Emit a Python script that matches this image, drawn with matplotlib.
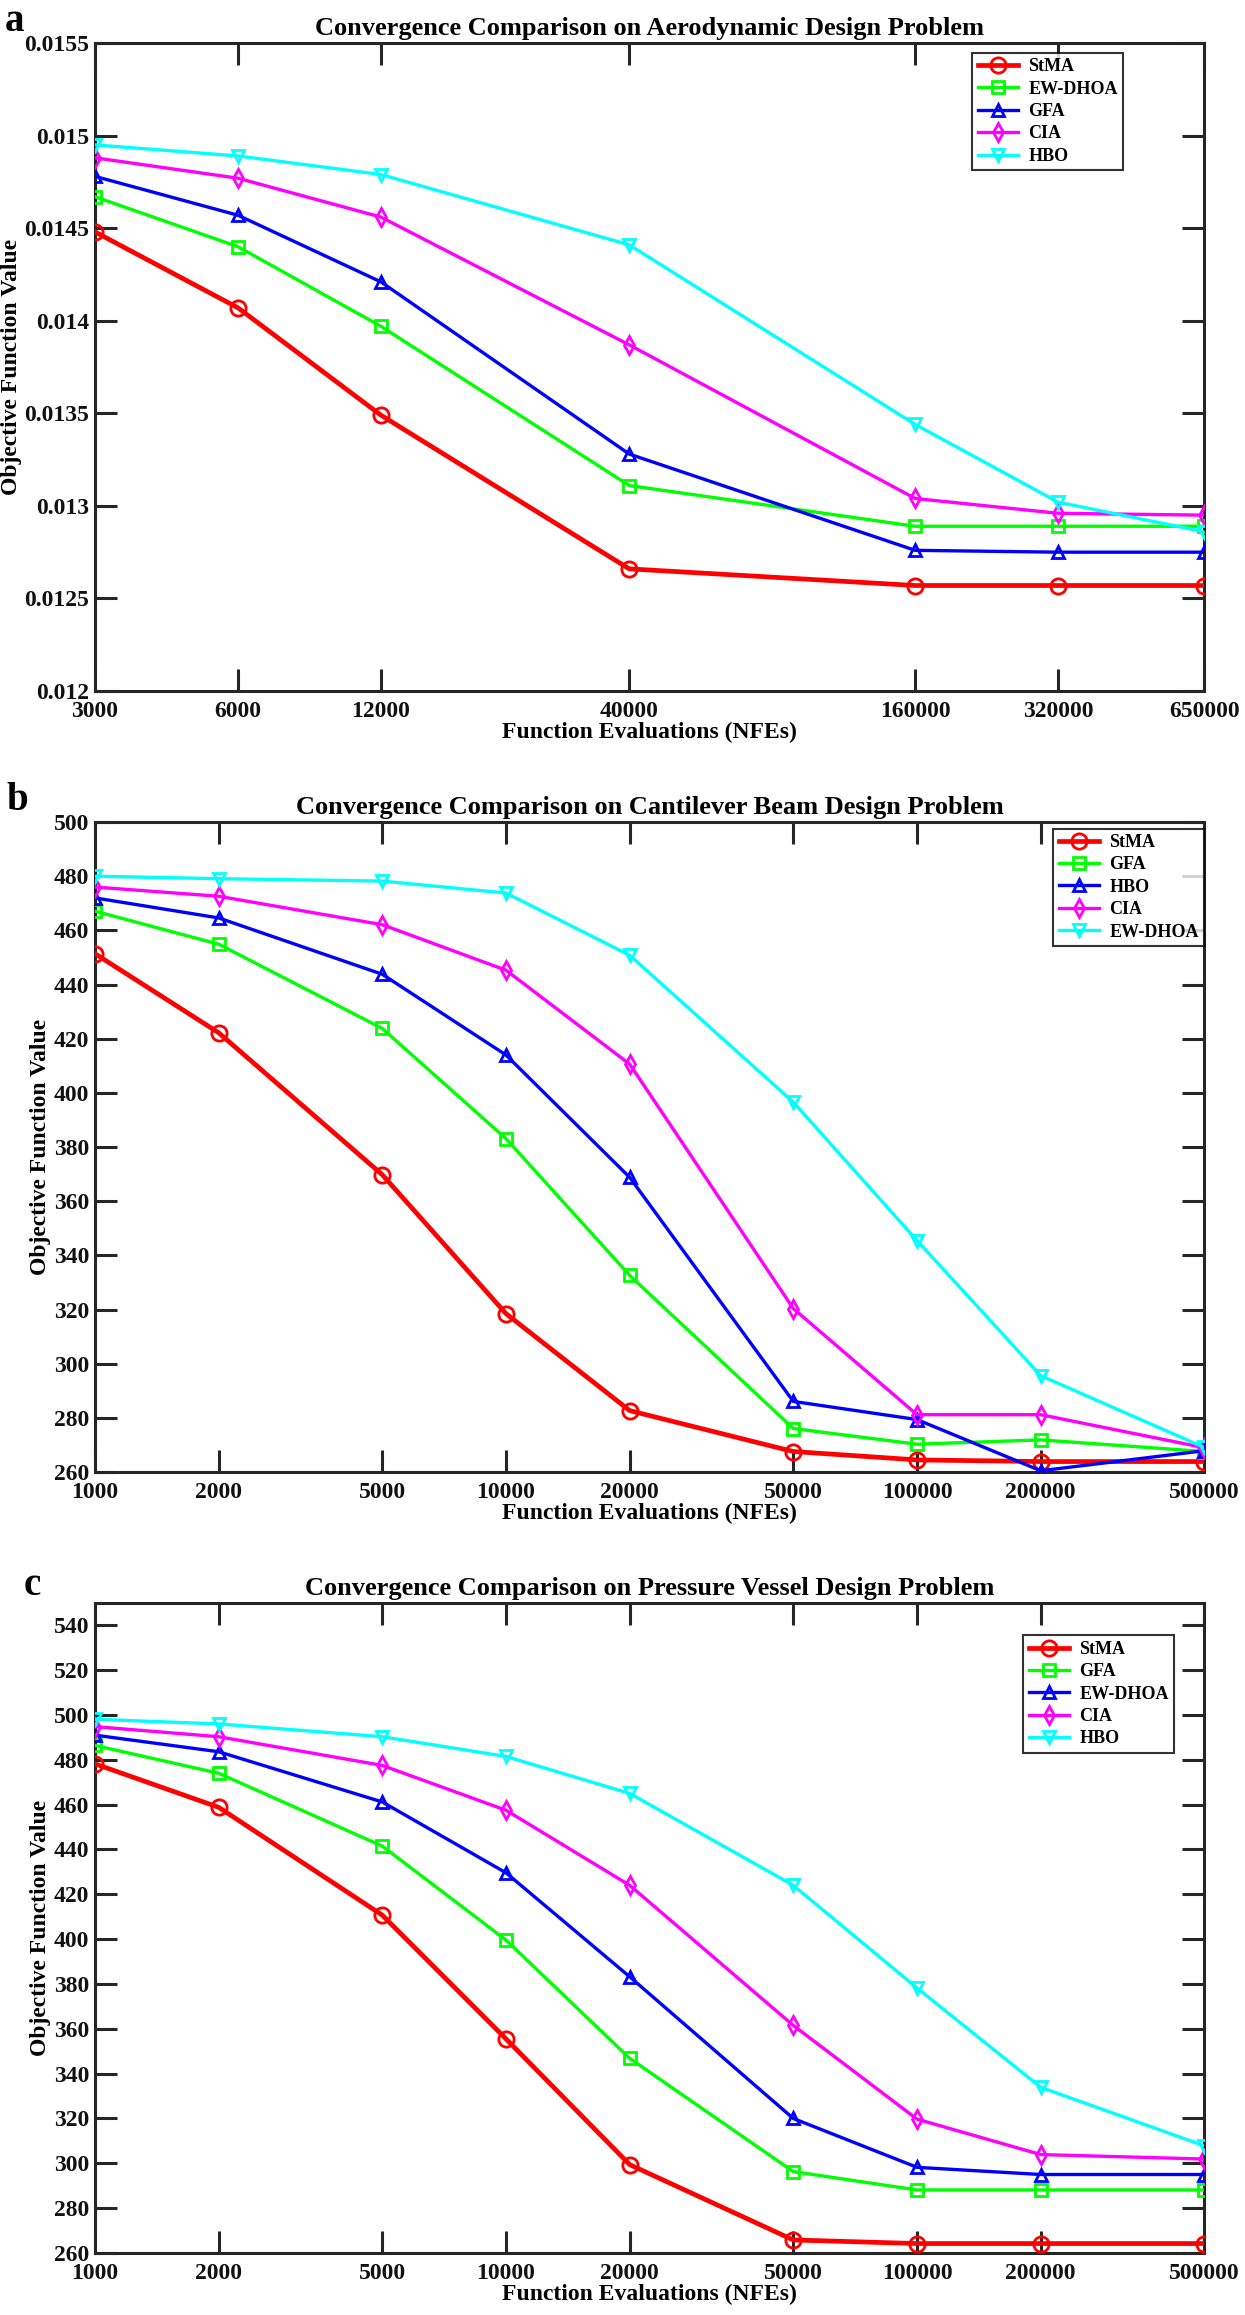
import matplotlib
matplotlib.use('Agg')

from matplotlib import pyplot as plt
from matplotlib import ticker
import numpy as np

# panel a: aerodynamic design
nfe_a = [3000, 6000, 12000, 40000, 160000, 320000, 650000]
aero_names = ['StMA', 'EW-DHOA', 'GFA', 'CIA', 'HBO']
aero_stma = [0.01448, 0.01407, 0.01349, 0.01266, 0.01257, 0.01257, 0.01257]
aero_ewdhoa = [0.01467, 0.01440, 0.01397, 0.01311, 0.01289, 0.01289, 0.01289]
aero_gfa = [0.01478, 0.01457, 0.01421, 0.01328, 0.01276, 0.01275, 0.01275]
aero_cia = [0.01488, 0.01477, 0.01456, 0.01387, 0.01304, 0.01296, 0.01295]
aero_hbo = [0.01495, 0.01489, 0.01479, 0.01441, 0.01344, 0.01302, 0.01286]
aero_yticks = [0.012, 0.0125, 0.013, 0.0135, 0.014, 0.0145, 0.015, 0.0155]
aero_ylabels = ['0.012', '0.0125', '0.013', '0.0135', '0.014', '0.0145', '0.015', '0.0155']

# panel b: cantilever beam
nfe_bc = [1000, 2000, 5000, 10000, 20000, 50000, 100000, 200000, 500000]
beam_names = ['StMA', 'GFA', 'HBO', 'CIA', 'EW-DHOA']
beam_stma = [451.4, 422.2, 369.8, 318.5, 282.7, 267.6, 264.5, 263.9, 263.9]
beam_gfa = [467.1, 454.9, 423.8, 383.1, 332.6, 276.1, 270.3, 271.9, 267.6]
beam_hbo = [472.0, 464.6, 443.8, 414.0, 368.8, 286.1, 279.4, 260.5, 267.9]
beam_cia = [476.0, 472.6, 462.1, 445.3, 410.6, 320.4, 281.2, 281.2, 269.0]
beam_ewdhoa = [480.0, 479.1, 478.2, 473.8, 450.8, 396.6, 345.5, 295.6, 269.1]

# panel c: pressure vessel
vessel_names = ['StMA', 'GFA', 'EW-DHOA', 'CIA', 'HBO']
vessel_stma = [478.2, 458.8, 410.7, 355.5, 299.4, 265.8, 264.2, 264.2, 264.2]
vessel_gfa = [486.4, 474.0, 441.5, 399.6, 346.8, 296.3, 288.1, 288.1, 288.1]
vessel_ewdhoa = [491.0, 483.6, 461.2, 429.6, 383.2, 320.0, 298.2, 295.0, 295.0]
vessel_cia = [494.8, 490.3, 477.5, 457.5, 424.0, 361.5, 319.7, 303.9, 301.9]
vessel_hbo = [498.1, 496.0, 490.3, 481.5, 465.0, 424.0, 378.2, 333.9, 307.8]

colors = ['#ff0000', '#00ff00', '#0000ff', '#ff00ff', '#00ffff']
markers = ['o', 's', '^', 'd', 'v']

FONT = 'Liberation Serif'
plt.rcParams['font.family'] = FONT
plt.rcParams['font.weight'] = 'bold'
plt.rcParams['axes.linewidth'] = 2.2
plt.rcParams['axes.edgecolor'] = '#262626'


def draw_panel(ax, x, series, names, title, yticks, ylabels, ylim, leg_anchor):
    for i, (y, name) in enumerate(zip(series, names)):
        lw = 3.4 if i == 0 else 2.4
        ms = 11 if i == 0 else 9
        ax.plot(x, y, color=colors[i], marker=markers[i], lw=lw, ms=ms,
                mfc='none', mec=colors[i], mew=2.0, label=name, zorder=3 + i)
    ax.set_xscale('log')
    ax.set_xlim(x[0], x[-1])
    ax.set_ylim(*ylim)
    ax.xaxis.set_major_locator(ticker.FixedLocator(x))
    ax.xaxis.set_major_formatter(ticker.FixedFormatter([str(v) for v in x]))
    ax.xaxis.set_minor_locator(ticker.NullLocator())
    ax.set_yticks(yticks)
    ax.set_yticklabels(ylabels)
    ax.tick_params(direction='in', length=16, width=2.2, top=True, right=True,
                   labelsize=17, colors='#262626')
    ax.tick_params(axis='x', pad=7)
    ax.tick_params(axis='y', pad=4)
    for lab in ax.get_xticklabels() + ax.get_yticklabels():
        lab.set_color('#111111')
        lab.set_fontweight('bold')
    ax.set_title(title, fontsize=19, fontweight='bold', pad=6)
    ax.set_xlabel('Function Evaluations (NFEs)', fontsize=17, fontweight='bold', labelpad=0)
    ax.set_ylabel('Objective Function Value', fontsize=17, fontweight='bold', labelpad=2)
    leg = ax.legend(loc='upper right', bbox_to_anchor=leg_anchor, fontsize=13,
                    frameon=True, fancybox=False, borderpad=0.3, labelspacing=0.3,
                    handlelength=2.2, handletextpad=0.6, borderaxespad=0)
    leg.get_frame().set_edgecolor('black')
    leg.get_frame().set_linewidth(1.5)
    for t in leg.get_texts():
        t.set_fontweight('bold')


fig = plt.figure(figsize=(12.45, 23.15), dpi=100)
left, width = 0.0763, 0.891
ax_a = fig.add_axes([left, 0.7015, width, 0.2799])
ax_b = fig.add_axes([left, 0.3641, width, 0.2808])
ax_c = fig.add_axes([left, 0.0268, width, 0.2808])

draw_panel(ax_a, nfe_a, [aero_stma, aero_ewdhoa, aero_gfa, aero_cia, aero_hbo], aero_names,
           'Convergence Comparison on Aerodynamic Design Problem',
           aero_yticks, aero_ylabels, (0.012, 0.0155), (0.927, 0.985))
draw_panel(ax_b, nfe_bc, [beam_stma, beam_gfa, beam_hbo, beam_cia, beam_ewdhoa], beam_names,
           'Convergence Comparison on Cantilever Beam Design Problem',
           np.arange(260, 501, 20), [str(v) for v in range(260, 501, 20)], (260, 500), (1.0, 0.99))
draw_panel(ax_c, nfe_bc, [vessel_stma, vessel_gfa, vessel_ewdhoa, vessel_cia, vessel_hbo], vessel_names,
           'Convergence Comparison on Pressure Vessel Design Problem',
           np.arange(260, 541, 20), [str(v) for v in range(260, 541, 20)], (260, 550), (0.973, 0.95))

fig.text(0.004, 0.9985, 'a', fontsize=28, fontweight='bold', va='top', ha='left')
fig.text(0.005, 0.650, 'b', fontsize=28, fontweight='bold', va='baseline', ha='left')
fig.text(0.019, 0.311, 'c', fontsize=28, fontweight='bold', va='baseline', ha='left')

fig.savefig('out.png', dpi=100, facecolor='white')
